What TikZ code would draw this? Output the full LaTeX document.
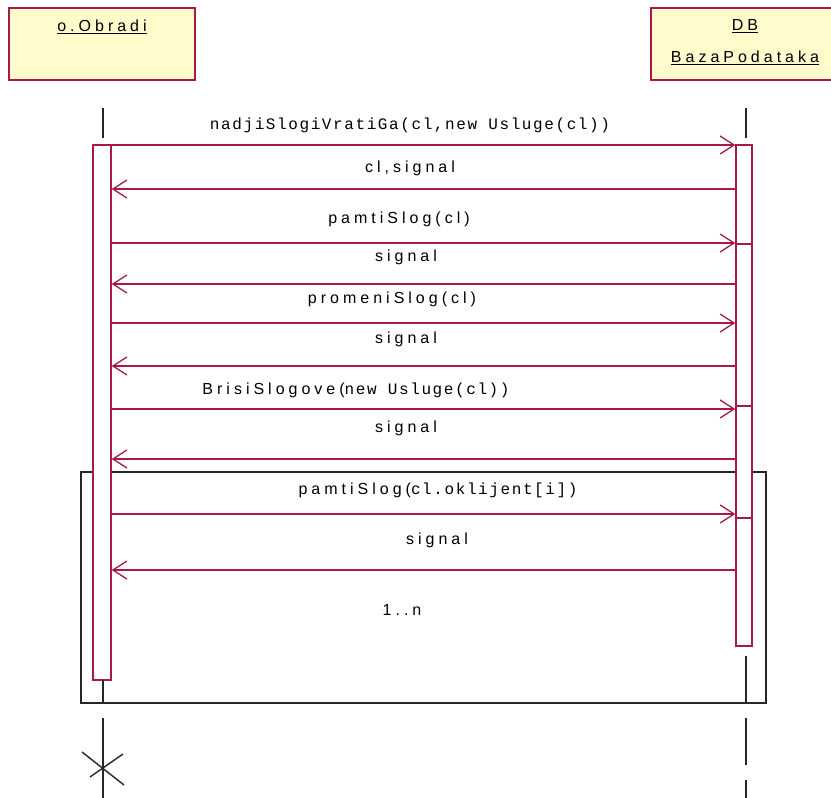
\documentclass[tikz,border=0pt]{standalone}
\usepackage{fontspec}
\setmainfont{Liberation Sans}
\newfontfamily\lblsans[LetterSpace=25]{Liberation Sans}
\newfontfamily\lblmono[LetterSpace=10]{Liberation Mono}
\usetikzlibrary{arrows.meta}
\definecolor{umlred}{RGB}{168,24,72}
\definecolor{umlfill}{RGB}{255,251,204}
\tikzset{
  objbox/.style={draw=umlred, fill=umlfill, line width=1.6pt, rectangle},
  actbox/.style={draw=umlred, fill=white, line width=1.4pt, rectangle, inner sep=0pt},
  life/.style={draw=black!85, line width=1.4pt},
  msg/.style={draw=umlred, line width=1.3pt, -{Straight Barb[length=14pt,width=18pt,line width=1.3pt]}},
  lbl/.style={font=\fontsize{16}{18}\lblsans, text=black, inner sep=0pt},
  frm/.style={draw=black!85, line width=1.3pt},
}
\newcommand{\monotxt}{\fontsize{16}{18}\lblmono}
\begin{document}
\begin{tikzpicture}[x=1pt,y=-1pt]
\useasboundingbox (0,0) rectangle (831,798);
% objects
\draw[objbox] (9,8) rectangle (195,80);
\draw[objbox] (651,8) rectangle (845,80);
\node[lbl] (objL) at (102,27) {\underline{o.Obradi}};
\node[lbl] (objR1) at (745,26) {\underline{DB}};
\node[lbl] (objR2) at (745,58) {\underline{BazaPodataka}};
% lifelines
\draw[life] (103,108) -- (103,138);
\draw[life] (746,108) -- (746,138);
% frame
\draw[frm] (81,472) rectangle (766,703);
% activations
\node[actbox, minimum width=18pt, minimum height=535pt] (actL) at (102,412.5) {};
\node[actbox, minimum width=16pt, minimum height=501pt] (actR) at (744,395.5) {};
\draw[umlred, line width=1.3pt] (actR.west |- 0,244) -- (actR.east |- 0,244);
\draw[umlred, line width=1.3pt] (actR.west |- 0,406) -- (actR.east |- 0,406);
\draw[umlred, line width=1.3pt] (actR.west |- 0,518) -- (actR.east |- 0,518);
% lower lifelines
\draw[life] (103,680) -- (103,703);
\draw[life] (103,718) -- (103,798);
\draw[life] (82,752) -- (124,785);
\draw[life] (123,754) -- (90,777);
\draw[life] (746,656) -- (746,703);
\draw[life] (746,718) -- (746,765);
\draw[life] (746,780) -- (746,798);
% messages
\draw[msg] (actL.east |- 0,145) -- (actR.west |- 0,145);
\draw[msg] (actR.west |- 0,189) -- (actL.east |- 0,189);
\draw[msg] (actL.east |- 0,243) -- (actR.west |- 0,243);
\draw[msg] (actR.west |- 0,284) -- (actL.east |- 0,284);
\draw[msg] (actL.east |- 0,323) -- (actR.west |- 0,323);
\draw[msg] (actR.west |- 0,366) -- (actL.east |- 0,366);
\draw[msg] (actL.east |- 0,409) -- (actR.west |- 0,409);
\draw[msg] (actR.west |- 0,459) -- (actL.east |- 0,459);
\draw[msg] (actL.east |- 0,514) -- (actR.west |- 0,514);
\draw[msg] (actR.west |- 0,570) -- (actL.east |- 0,570);
% labels
\node[lbl, font=\monotxt] (t1) at (410,125) {nadjiSlogiVratiGa(cl,new Usluge(cl))};
\node[lbl] (t2) at (410,168) {cl,signal};
\node[lbl] (t3) at (399,219) {pamtiSlog(cl)};
\node[lbl] (t4) at (406,257) {signal};
\node[lbl] (t5) at (392,299) {promeniSlog(cl)};
\node[lbl] (t6) at (406,339) {signal};
\node[lbl] (t7) at (356,390) {BrisiSlogove({\monotxt new Usluge(cl))}};
\node[lbl] (t8) at (406,428) {signal};
\node[lbl] (t9) at (438,490) {pamtiSlog({\monotxt cl.oklijent[i])}};
\node[lbl] (t10) at (437,540) {signal};
\node[lbl] (t11) at (402,610) {1..n};
\end{tikzpicture}
\end{document}
